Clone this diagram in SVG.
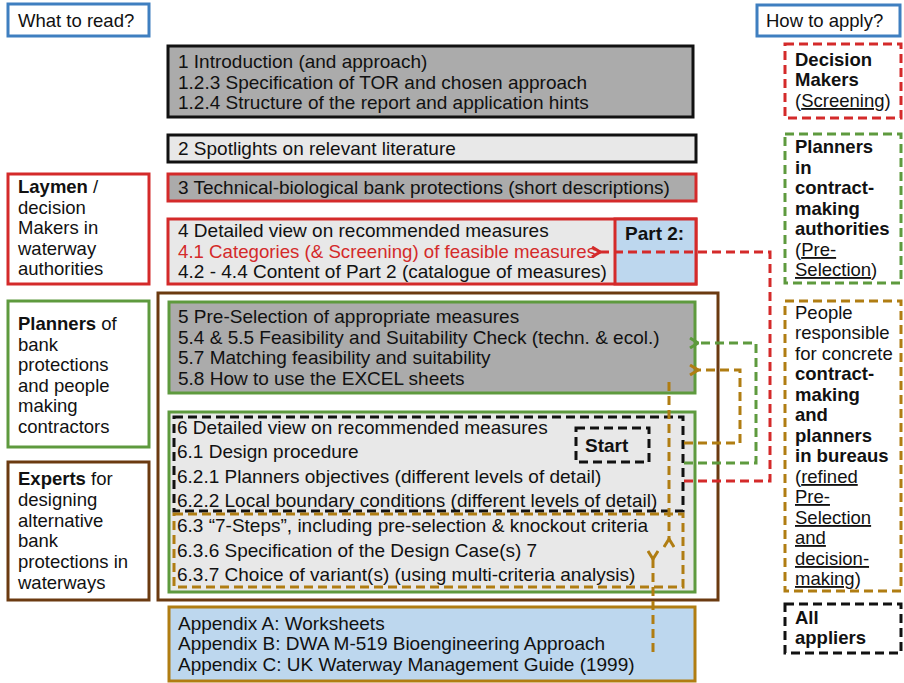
<svg xmlns="http://www.w3.org/2000/svg" width="904" height="683" viewBox="0 0 904 683">
<defs>
<style>
text{font-family:"Liberation Sans",Arial,sans-serif;font-size:19px;fill:#111}
.side text{font-size:18.5px}
.b{font-weight:bold}
.u{text-decoration:underline}
.s{stroke-width:3}
.dg{fill:#ababab}
.lg{fill:#e8e8e8}
.bl{fill:#bdd7ee}
.red{stroke:#d42a2a}
.grn{stroke:#5e9a3e}
.brn{stroke:#6b3a10}
.gld{stroke:#b07d12}
.blu{stroke:#3f7fc0}
.blk{stroke:#111}
.dash{fill:none;stroke-width:3;stroke-dasharray:9 5}
.conn{fill:none;stroke-width:3;stroke-dasharray:9 5}
</style>
<marker id="mr" viewBox="0 0 10 12" refX="1" refY="6" markerWidth="10" markerHeight="12" markerUnits="userSpaceOnUse" orient="auto-start-reverse"><path d="M9,1 L1,6 L9,11" fill="none" stroke="#d42a2a" stroke-width="3"/></marker>
<marker id="mg" viewBox="0 0 10 12" refX="1" refY="6" markerWidth="10" markerHeight="12" markerUnits="userSpaceOnUse" orient="auto-start-reverse"><path d="M9,1 L1,6 L9,11" fill="none" stroke="#5e9a3e" stroke-width="3"/></marker>
<marker id="mb" viewBox="0 0 10 12" refX="1" refY="6" markerWidth="10" markerHeight="12" markerUnits="userSpaceOnUse" orient="auto-start-reverse"><path d="M9,1 L1,6 L9,11" fill="none" stroke="#b07d12" stroke-width="3"/></marker>
</defs>
<rect width="904" height="683" fill="#fff"/>

<g id="what-to-read" class="side"><rect x="8" y="4" width="141" height="32" fill="#fff" class="s blu"/><text x="18" y="27">What to read?</text></g>
<g id="how-to-apply" class="side"><rect x="757" y="5" width="143" height="31" fill="#fff" class="s blu"/><text x="766" y="27">How to apply?</text></g>

<g id="laymen" class="side"><rect x="8" y="174" width="141" height="110" fill="#fff" class="s red"/>
<text x="18" y="193"><tspan class="b">Laymen</tspan> /</text><text x="18" y="214">decision</text><text x="18" y="234">Makers in</text><text x="18" y="255">waterway</text><text x="18" y="275">authorities</text></g>
<g id="planners" class="side"><rect x="8" y="301" width="141" height="146" fill="#fff" class="s grn"/>
<text x="18" y="330"><tspan class="b">Planners</tspan> of</text><text x="18" y="351">bank</text><text x="18" y="371">protections</text><text x="18" y="392">and people</text><text x="18" y="412">making</text><text x="18" y="433">contractors</text></g>
<g id="experts" class="side"><rect x="8" y="462" width="141" height="138" fill="#fff" class="s brn"/>
<text x="18" y="485"><tspan class="b">Experts</tspan> for</text><text x="18" y="506">designing</text><text x="18" y="527">alternative</text><text x="18" y="547">bank</text><text x="18" y="568">protections in</text><text x="18" y="589">waterways</text></g>

<g id="ch1"><rect x="168" y="46" width="525" height="71" class="dg s blk"/>
<text x="178" y="68">1 Introduction (and approach)</text><text x="178" y="89">1.2.3 Specification of TOR and chosen approach</text><text x="178" y="109">1.2.4 Structure of the report and application hints</text></g>
<g id="ch2"><rect x="168" y="135" width="528" height="27" class="lg s blk"/><text x="178" y="155">2 Spotlights on relevant literature</text></g>
<g id="ch3"><rect x="168" y="174" width="528" height="27" class="dg s red"/><text x="178" y="194">3 Technical-biological bank protections (short descriptions)</text></g>
<g id="ch4"><rect x="168" y="219" width="528" height="65" class="lg s red"/><rect x="615" y="219" width="81" height="65" class="bl s red"/>
<text x="178" y="237">4 Detailed view on recommended measures</text><text x="178" y="258" style="fill:#d42a2a" textLength="418" lengthAdjust="spacingAndGlyphs">4.1 Categories (&amp; Screening) of feasible measures</text><text x="178" y="278">4.2 - 4.4 Content of Part 2 (catalogue of measures)</text>
<text x="625" y="240" class="b">Part 2:</text></g>

<g id="frame"><rect x="158" y="293" width="560" height="307" fill="none" class="s brn"/></g>
<g id="ch5"><rect x="169" y="302" width="526" height="91" class="dg s grn"/>
<text x="178" y="323">5 Pre-Selection of appropriate measures</text><text x="178" y="344">5.4 &amp; 5.5 Feasibility and Suitability Check (techn. &amp; ecol.)</text><text x="178" y="364">5.7 Matching feasibility and suitability</text><text x="178" y="385">5.8 How to use the EXCEL sheets</text></g>
<g id="ch6"><rect x="169" y="412" width="526" height="180" class="lg s grn"/>
<rect x="174" y="417" width="509" height="94" class="dash blk"/>
<rect x="174" y="514" width="509" height="73" class="dash gld"/>
<text x="177" y="434">6 Detailed view on recommended measures</text><text x="177" y="458">6.1 Design procedure</text><text x="177" y="483">6.2.1 Planners objectives (different levels of detail)</text><text x="177" y="507">6.2.2 Local boundary conditions (different levels of detail)</text>
<text x="177" y="532">6.3 “7-Steps”, including pre-selection &amp; knockout criteria</text><text x="177" y="557">6.3.6 Specification of the Design Case(s) 7</text><text x="177" y="581">6.3.7 Choice of variant(s) (using multi-criteria analysis)</text></g>
<g id="start"><rect x="576" y="428" width="73" height="34" fill="none" class="dash blk"/><text x="585" y="452" class="b">Start</text></g>
<g id="appendix"><rect x="169" y="607" width="526" height="74" class="bl s gld"/>
<text x="178" y="630">Appendix A: Worksheets</text><text x="178" y="650">Appendix B: DWA M-519 Bioengineering Approach</text><text x="178" y="671">Appendix C: UK Waterway Management Guide (1999)</text></g>

<g id="decision-makers" class="side"><rect x="785" y="44" width="116" height="74" class="dash red"/>
<text x="795" y="66" class="b">Decision</text><text x="795" y="86" class="b">Makers</text><text x="795" y="107">(<tspan class="u">Screening</tspan>)</text></g>
<g id="planners-authorities" class="side"><rect x="785" y="134" width="116" height="149" class="dash grn"/>
<text x="795" y="153" class="b">Planners</text><text x="795" y="174" class="b">in</text><text x="795" y="194" class="b">contract-</text><text x="795" y="215" class="b">making</text><text x="795" y="235" class="b">authorities</text><text x="795" y="256">(<tspan class="u">Pre-</tspan></text><text x="795" y="276"><tspan class="u">Selection</tspan>)</text></g>
<g id="people" class="side"><rect x="785" y="301" width="116" height="290" class="dash gld"/>
<text x="795" y="319">People</text><text x="795" y="339">responsible</text><text x="795" y="360">for concrete</text><text x="795" y="380" class="b">contract-</text><text x="795" y="401" class="b">making</text><text x="795" y="421" class="b">and</text><text x="795" y="442" class="b">planners</text><text x="795" y="462" class="b">in bureaus</text>
<text x="795" y="483">(<tspan class="u">refined</tspan></text><text x="795" y="503" class="u">Pre-</text><text x="795" y="524" class="u">Selection</text><text x="795" y="544" class="u">and</text><text x="795" y="565" class="u">decision-</text><text x="795" y="585"><tspan class="u">making</tspan>)</text></g>
<g id="all-appliers" class="side"><rect x="785" y="604" width="116" height="49" class="dash blk"/>
<text x="795" y="624" class="b">All</text><text x="795" y="644" class="b">appliers</text></g>

<g id="connectors">
<polyline points="684,481 770,481 770,252 600,252" class="conn red" marker-end="url(#mr)"/>
<polyline points="684,463 756,463 756,343 698,343" class="conn grn" marker-end="url(#mg)"/>
<polyline points="684,443 740,443 740,370 698,370" class="conn gld" marker-end="url(#mb)"/>
<polyline points="669,382 669,539" class="conn gld" marker-end="url(#mb)"/>
<polyline points="653,652 653,559" class="conn gld" marker-end="url(#mb)"/>
</g>
</svg>
